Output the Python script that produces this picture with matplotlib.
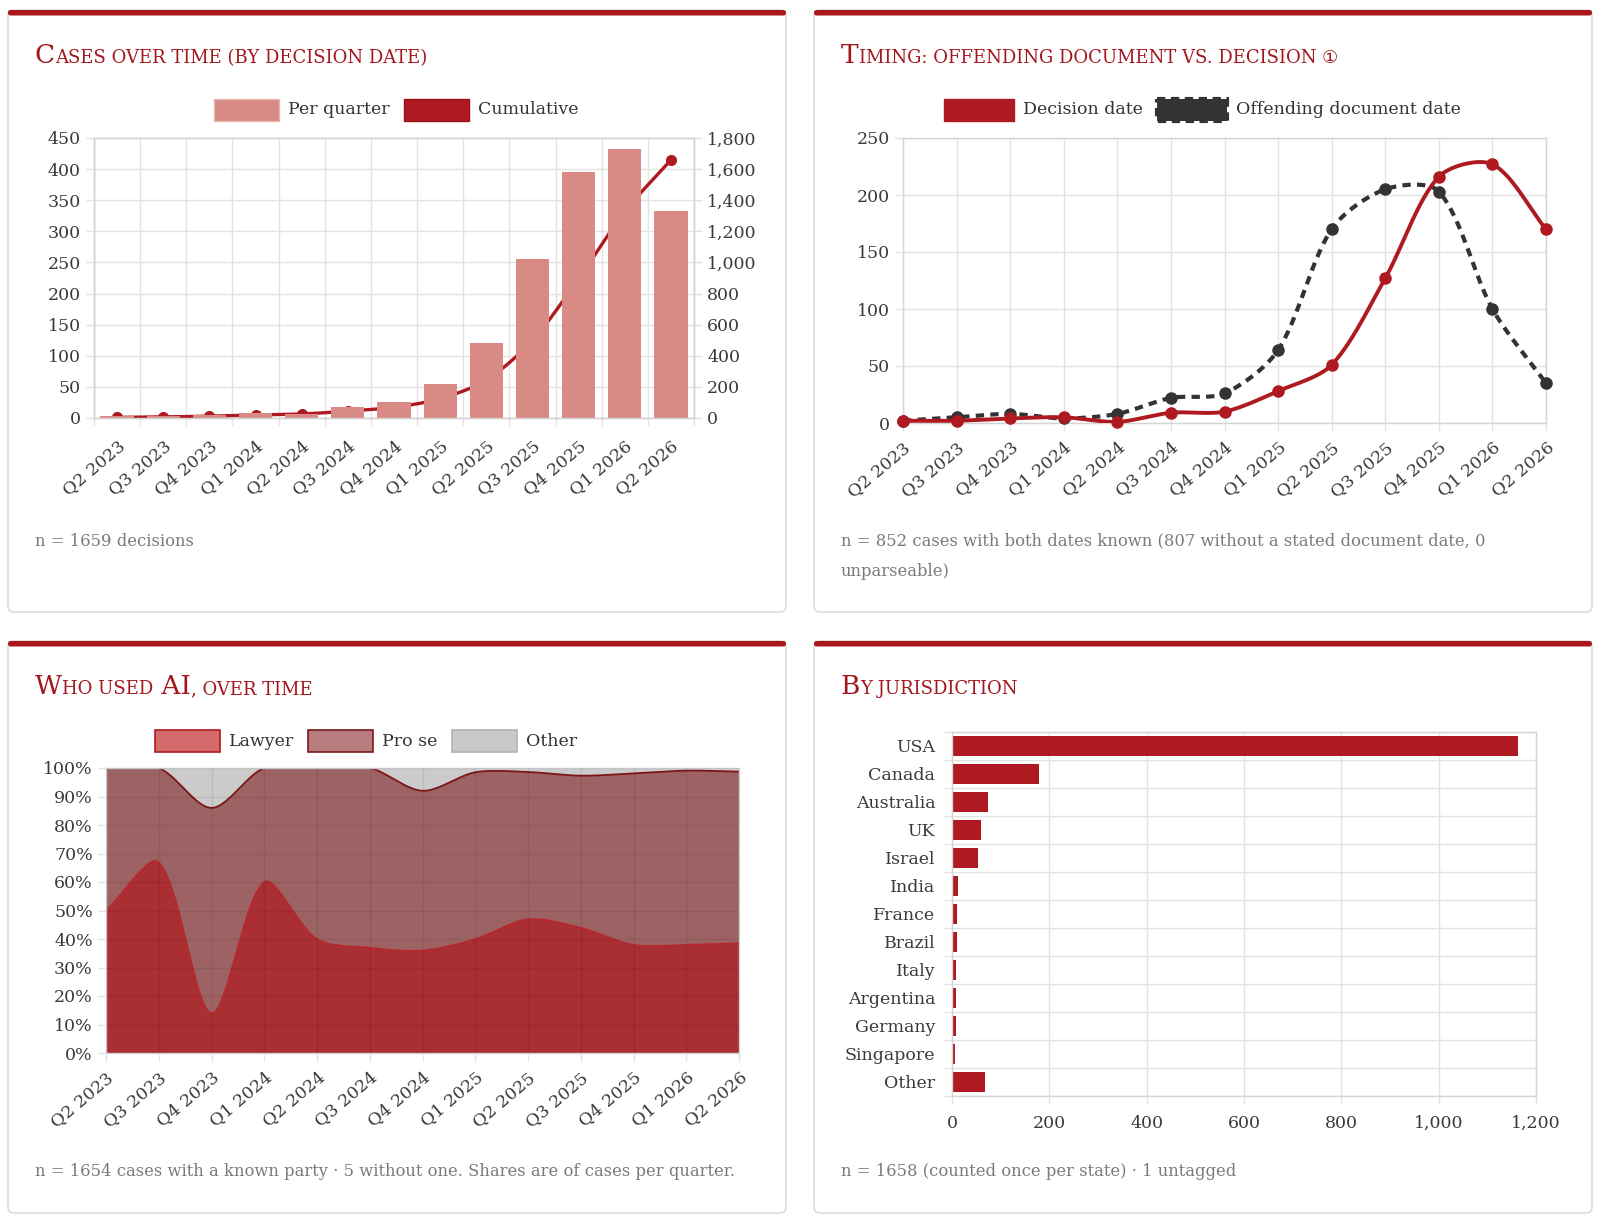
import numpy as np
import matplotlib
matplotlib.use("Agg")
import matplotlib.pyplot as plt
from matplotlib.patches import FancyBboxPatch, Rectangle
from matplotlib.ticker import FuncFormatter

# ---------------- data ----------------
quarters = ["Q2 2023", "Q3 2023", "Q4 2023", "Q1 2024", "Q2 2024", "Q3 2024", "Q4 2024",
            "Q1 2025", "Q2 2025", "Q3 2025", "Q4 2025", "Q1 2026", "Q2 2026"]
per_quarter = [4, 3, 5, 8, 6, 18, 25, 55, 120, 255, 396, 432, 332]
decision_date = [2, 2, 4, 5, 1, 9, 10, 28, 51, 127, 216, 227, 170]
offending_date = [2, 5, 8, 4, 8, 22, 26, 64, 170, 205, 203, 100, 35]
lawyer_pct = [50, 67, 14, 60, 40, 37, 36, 40, 47, 44, 38, 38, 38.6]
prose_pct = [50, 33, 72, 40, 60, 63, 56, 58.5, 51.6, 53.3, 60.1, 61.1, 60.1]
other_pct = [0, 0, 14, 0, 0, 0, 8, 1.5, 1.4, 2.7, 1.9, 0.9, 1.3]
jurisdictions = ["USA", "Canada", "Australia", "UK", "Israel", "India", "France", "Brazil",
                 "Italy", "Argentina", "Germany", "Singapore", "Other"]
jurisdiction_counts = [1163, 178, 73, 59, 54, 12, 11, 10, 9, 8, 8, 6, 67]

# ---------------- style ----------------
W, H = 1600, 1219
SERIF = ["DejaVu Serif", "DejaVu Sans"]
plt.rcParams["font.family"] = SERIF
plt.rcParams["lines.scale_dashes"] = False

TITLE_C = "#a3161c"
RED = "#ae1a1f"
SALMON = "#d98a84"
GRID = "#e3e3e3"
SPINE = "#d4d4d4"
TICK_C = "#3a3a3a"
NOTE_C = "#7a7a7a"
TFS = 12.5
LFS = 12.5
NFS = 11.8
TENSION = 0.3

fig = plt.figure(figsize=(W / 100, H / 100), dpi=100)
fig.patch.set_facecolor("white")
bg = fig.add_axes([0, 0, 1, 1], zorder=0)
bg.set_xlim(0, W)
bg.set_ylim(H, 0)
bg.axis("off")
renderer = fig.canvas.get_renderer()


def rect(l, t, r, b):
    return [l / W, 1 - b / H, (r - l) / W, (b - t) / H]


def text_w(t):
    return t.get_window_extent(renderer).width


def card(x0, y0, x1, y1):
    bg.add_patch(FancyBboxPatch((x0, y0), x1 - x0, y1 - y0,
                                boxstyle="round,pad=0,rounding_size=6",
                                fc="white", ec="#dcdcdc", lw=1.2))
    bg.add_patch(FancyBboxPatch((x0, y0), x1 - x0, 5.5,
                                boxstyle="round,pad=0,rounding_size=2.5",
                                fc="#ab151c", ec="none"))


def title(x, y, parts, big=19, small=13):
    cx = x
    for txt, isbig in parts:
        t = bg.text(cx, y, txt, fontsize=big if isbig else small, color=TITLE_C,
                    va="baseline", ha="left")
        cx += text_w(t)


def legend(cx, cy, items, bw=65, bh=22):
    gap_t, gap_i = 9, 14
    texts = []
    for lab, *_ in items:
        t = bg.text(0, cy, lab, fontsize=LFS, color="#333333", va="center", ha="left")
        texts.append(t)
    widths = [text_w(t) for t in texts]
    total = sum(bw + gap_t + w for w in widths) + gap_i * (len(items) - 1)
    x = cx - total / 2
    for (lab, fc, ec, lw, ls), t, w in zip(items, texts, widths):
        bg.add_patch(Rectangle((x, cy - bh / 2), bw, bh, fc=fc, ec=ec, lw=lw, ls=ls))
        t.set_x(x + bw + gap_t)
        x += bw + gap_t + w + gap_i


def note(x, y, txt):
    bg.text(x, y, txt, fontsize=NFS, color=NOTE_C, va="center", ha="left")


def style(ax):
    for s in ax.spines.values():
        s.set_color(SPINE)
        s.set_linewidth(1)
    ax.tick_params(which="both", colors=GRID, labelcolor=TICK_C, labelsize=TFS, width=1)
    ax.set_facecolor("none")


def smooth(ax, xs, ys, tension=TENSION, n=30):
    pts = ax.transData.transform(np.column_stack([xs, ys]).astype(float))
    ylim = ax.get_ylim()
    yp = ax.transData.transform([(0, ylim[0]), (0, ylim[1])])[:, 1]
    lo, hi = yp.min(), yp.max()
    N = len(pts)
    cpp = np.zeros_like(pts)
    cpn = np.zeros_like(pts)
    for i in range(N):
        p = pts[i]
        a = pts[i - 1] if i > 0 else p
        c = pts[i + 1] if i < N - 1 else p
        d01 = np.hypot(*(p - a))
        d12 = np.hypot(*(c - p))
        tot = d01 + d12
        s01 = d01 / tot if tot > 0 else 0
        s12 = d12 / tot if tot > 0 else 0
        cpp[i] = p - tension * s01 * (c - a)
        cpn[i] = p + tension * s12 * (c - a)
    cpp[:, 1] = np.clip(cpp[:, 1], lo, hi)
    cpn[:, 1] = np.clip(cpn[:, 1], lo, hi)
    out = []
    for i in range(N - 1):
        P0, P1, P2, P3 = pts[i], cpn[i], cpp[i + 1], pts[i + 1]
        t = np.linspace(0, 1, n)[:, None]
        B = (1 - t) ** 3 * P0 + 3 * (1 - t) ** 2 * t * P1 + 3 * (1 - t) * t ** 2 * P2 + t ** 3 * P3
        out.append(B if i == N - 2 else B[:-1])
    out = np.vstack(out)
    d = ax.transData.inverted().transform(out)
    return d[:, 0], d[:, 1]


comma = FuncFormatter(lambda v, p: f"{int(v):,}")
x = np.arange(len(quarters))

# ---------------- cards ----------------
card(8, 10, 786, 612)
card(814, 10, 1592, 612)
card(8, 641, 786, 1213)
card(814, 641, 1592, 1213)

# ---------------- chart 1 ----------------
title(35, 63, [("C", 1), ("ASES OVER TIME (BY DECISION DATE)", 0)])
legend(396, 110, [("Per quarter", SALMON, "#e9b3ae", 1, "-"),
                  ("Cumulative", RED, "#9c1218", 1, "-")])

ax1 = fig.add_axes(rect(94, 138, 694, 418), zorder=1)
ax1b = ax1.twinx()
ax1.set_xlim(-0.5, 12.5)
ax1.set_ylim(0, 1800)
ax1.yaxis.tick_right()
ax1b.yaxis.tick_left()
ax1b.set_ylim(0, 450)
style(ax1)
style(ax1b)
ax1.set_yticks(np.arange(0, 1801, 200))
ax1.yaxis.set_major_formatter(comma)
ax1b.set_yticks(np.arange(0, 451, 50))
ax1.grid(axis="y", color=GRID, lw=1)
ax1.set_xticks(x)
ax1.set_xticks(np.arange(-0.5, 13, 1), minor=True)
ax1.grid(axis="x", which="minor", color=GRID, lw=1)
ax1.set_xticklabels(quarters, rotation=40, ha="right", rotation_mode="anchor")
ax1.tick_params(axis="x", which="major", length=0, pad=14)
ax1.tick_params(axis="x", which="minor", length=5.5)
ax1.tick_params(axis="y", length=5.5, pad=4)
ax1b.tick_params(axis="y", length=5.5, pad=4)
ax1.set_axisbelow(True)

cum = np.cumsum(per_quarter)
sx, sy = smooth(ax1, x, cum)
ax1.plot(sx, sy, color=RED, lw=2.4, zorder=3, solid_capstyle="round")
ax1.plot(x, cum, "o", color=RED, ms=7, zorder=3)
ax1b.bar(x, per_quarter, width=0.72, color=SALMON, zorder=2)
note(35, 541, "n = 1659 decisions")

# ---------------- chart 2 ----------------
title(841, 63, [("T", 1), ("IMING: OFFENDING DOCUMENT VS. DECISION ", 0), ("\u2460", 0)])
legend(1202, 110, [("Decision date", RED, RED, 1, "-"),
                   ("Offending document date", "#333333", "#333333", 3, (0, (6, 4)))],
       bw=70)

ax2 = fig.add_axes(rect(903, 138, 1546, 423), zorder=1)
style(ax2)
ax2.set_xlim(0, 12)
ax2.set_ylim(0, 250)
ax2.set_yticks(np.arange(0, 251, 50))
ax2.set_xticks(x)
ax2.set_xticklabels(quarters, rotation=40, ha="right", rotation_mode="anchor")
ax2.grid(color=GRID, lw=1)
ax2.set_axisbelow(True)
ax2.tick_params(axis="x", length=5.5, pad=6)
ax2.tick_params(axis="y", length=5.5, pad=4)
ox, oy = smooth(ax2, x, offending_date)
ln, = ax2.plot(ox, oy, color="#333333", lw=3, zorder=3)
ln.set_dashes((6, 4.5))
ax2.plot(x, offending_date, "o", color="#333333", ms=8, zorder=3, clip_on=False)
dx, dy = smooth(ax2, x, decision_date)
ax2.plot(dx, dy, color=RED, lw=2.8, zorder=4)
ax2.plot(x, decision_date, "o", color=RED, ms=8, zorder=4, clip_on=False)
note(841, 541, "n = 852 cases with both dates known (807 without a stated document date, 0")
note(841, 572, "unparseable)")

# ---------------- chart 3 ----------------
title(35, 694, [("W", 1), ("HO USED", 0), (" AI", 1), (", OVER TIME", 0)])
legend(366, 741, [("Lawyer", "#d46a6c", "#b01c1c", 1.2, "-"),
                  ("Pro se", "#b97c7e", "#7a1a1a", 1.2, "-"),
                  ("Other", "#c9c9c9", "#b3b3b3", 1.2, "-")])

ax3 = fig.add_axes(rect(106, 768, 739, 1053), zorder=1)
style(ax3)
ax3.set_xlim(0, 12)
ax3.set_ylim(0, 100)
ax3.set_yticks(np.arange(0, 101, 10))
ax3.yaxis.set_major_formatter(FuncFormatter(lambda v, p: f"{int(v)}%"))
ax3.set_xticks(x)
ax3.set_xticklabels(quarters, rotation=40, ha="right", rotation_mode="anchor")
ax3.tick_params(axis="x", length=5.5, pad=6)
ax3.tick_params(axis="y", length=5.5, pad=4)
lvl1 = np.array(lawyer_pct, float)
lvl2 = lvl1 + np.array(prose_pct, float)
lvl3 = lvl2 + np.array(other_pct, float)
s1x, s1y = smooth(ax3, x, lvl1)
s2x, s2y = smooth(ax3, x, lvl2)
s3x, s3y = smooth(ax3, x, lvl3)
ax3.fill(np.r_[s1x, s1x[::-1]], np.r_[s1y, np.zeros_like(s1y)], color="#a92f33", lw=0, zorder=1)
ax3.fill(np.r_[s2x, s1x[::-1]], np.r_[s2y, s1y[::-1]], color="#9d6264", lw=0, zorder=1)
ax3.fill(np.r_[s3x, s2x[::-1]], np.r_[s3y, s2y[::-1]], color="#cbcbcb", lw=0, zorder=1)
ax3.plot(s1x, s1y, color="#b8262b", lw=1, zorder=2)
ax3.plot(s2x, s2y, color="#7d1518", lw=1.3, zorder=2)
ax3.grid(color="#000000", alpha=0.07, lw=1, zorder=3)
ax3.set_axisbelow(False)
note(35, 1171, "n = 1654 cases with a known party \u00b7 5 without one. Shares are of cases per quarter.")

# ---------------- chart 4 ----------------
title(841, 694, [("B", 1), ("Y JURISDICTION", 0)])
ax4 = fig.add_axes(rect(952, 732, 1536, 1096), zorder=1)
style(ax4)
yy = np.arange(len(jurisdictions))
ax4.set_xlim(0, 1200)
ax4.set_ylim(len(jurisdictions) - 0.5, -0.5)
ax4.barh(yy, jurisdiction_counts, height=0.72, color=RED, zorder=2)
ax4.set_xticks(np.arange(0, 1201, 200))
ax4.xaxis.set_major_formatter(comma)
ax4.set_yticks(yy)
ax4.set_yticklabels(jurisdictions)
ax4.set_yticks(np.arange(-0.5, len(jurisdictions), 1), minor=True)
ax4.grid(axis="x", color=GRID, lw=1)
ax4.grid(axis="y", which="minor", color=GRID, lw=1)
ax4.set_axisbelow(True)
ax4.tick_params(axis="y", which="major", length=0, pad=12)
ax4.tick_params(axis="y", which="minor", length=5.5)
ax4.tick_params(axis="x", length=5.5, pad=8)
note(841, 1171, "n = 1658 (counted once per state) \u00b7 1 untagged")

fig.savefig("out.png", dpi=100, facecolor="white")
